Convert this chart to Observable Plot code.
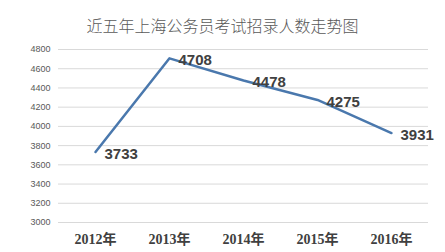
<!DOCTYPE html>
<html><head><meta charset="utf-8">
<script src="https://cdn.jsdelivr.net/npm/d3@7"></script>
<script src="https://cdn.jsdelivr.net/npm/@observablehq/plot@0.6"></script>
<style>
body{margin:0;background:#fff;}
#wrap{position:relative;width:445px;height:252px;overflow:hidden;}
#title{position:absolute;left:0;top:0;width:445px;height:40px;text-align:center;line-height:50px;font-family:"Noto Sans CJK SC",sans-serif;font-size:16px;font-weight:300;color:#595959;}
#chart{position:absolute;left:0;top:40px;}
</style></head>
<body><div id="wrap"><div id="title">近五年上海公务员考试招录人数走势图</div><div id="chart"></div></div>
<script>
const years = ["2012年","2013年","2014年","2015年","2016年"];
const counts = [3733, 4708, 4478, 4275, 3931];
const yTicks = [3000,3200,3400,3600,3800,4000,4200,4400,4600,4800];
const data = years.map((y,i)=>({year:y, value:counts[i]}));

const chart = Plot.plot({
  width:445, height:212,
  marginTop:9, marginBottom:30, marginLeft:58, marginRight:17,
  x:{type:"point", domain:years, padding:0.5, label:null},
  y:{domain:[3000,4800], label:null},
  marks:[
    Plot.gridY(yTicks,{stroke:"#d9d9d9", strokeOpacity:1, strokeWidth:1}),
    Plot.axisY(yTicks,{tickSize:0, tickPadding:8, tickFormat:d=>String(d), fontSize:9, fill:"#595959", fontFamily:"Liberation Sans, Arial, sans-serif", label:null}),
    Plot.axisX({tickSize:0, tickPadding:12, fontSize:14, fontWeight:"bold", fill:"#404040", fontFamily:"Liberation Serif, 'Noto Sans CJK SC', serif", label:null}),
    Plot.line(data,{x:"year", y:"value", stroke:"#4a78ad", strokeWidth:2.5}),
    Plot.text(data,{x:"year", y:"value", text:d=>String(d.value), textAnchor:"start", dx:9, dy:2, fontSize:15, fontWeight:"bold", fill:"#404040", fontFamily:"Liberation Sans, Arial, sans-serif"})
  ]
});
document.getElementById("chart").appendChild(chart);
</script></body></html>
